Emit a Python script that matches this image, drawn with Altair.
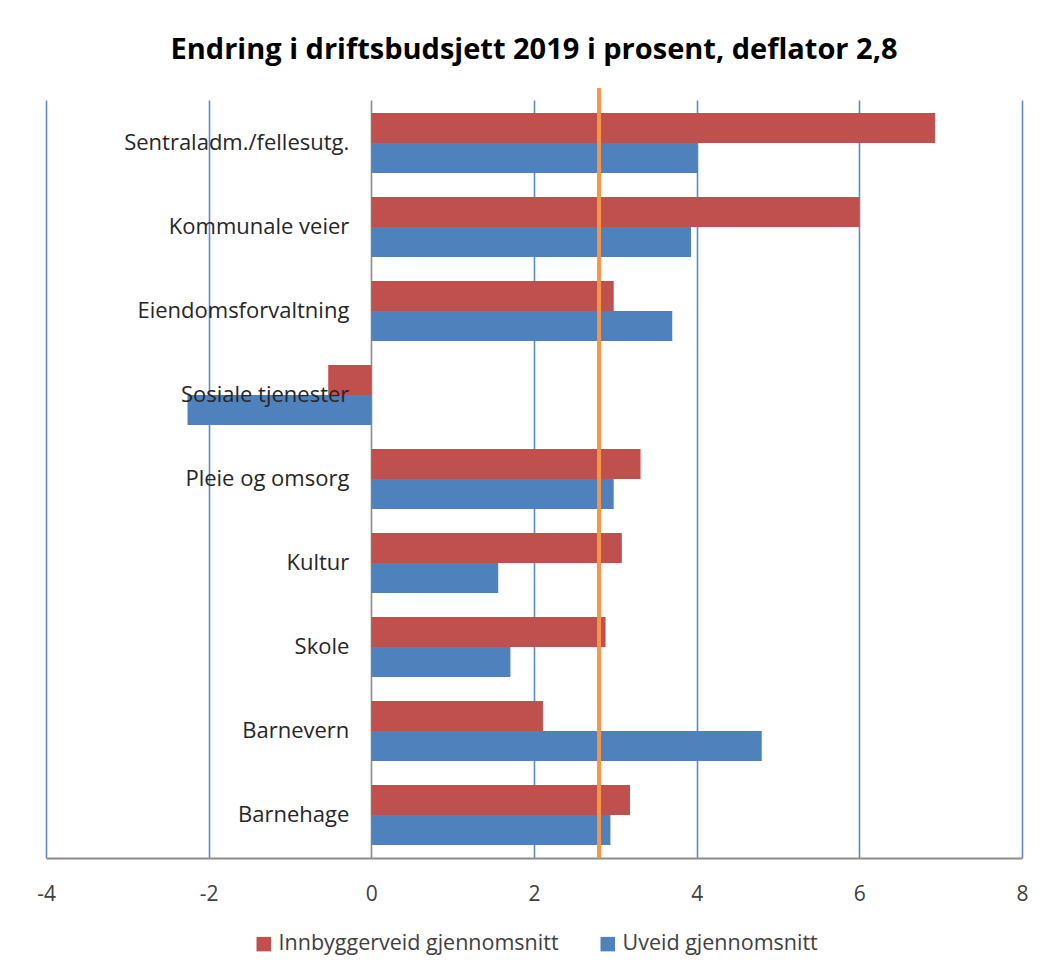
import altair as alt
import pandas as pd

categories = ["Sentraladm./fellesutg.", "Kommunale veier", "Eiendomsforvaltning",
              "Sosiale tjenester", "Pleie og omsorg", "Kultur", "Skole",
              "Barnevern", "Barnehage"]
series_names = ["Innbyggerveid gjennomsnitt", "Uveid gjennomsnitt"]
innbyggerveid = [6.93, 6.0, 2.98, -0.53, 3.31, 3.08, 2.88, 2.11, 3.18]
uveid = [4.01, 3.93, 3.70, -2.26, 2.98, 1.56, 1.71, 4.80, 2.94]
deflator = 2.8
x_ticks = [-4, -2, 0, 2, 4, 6, 8]
colors = ["#C0504D", "#4F81BD"]

rows = []
for c, a, b in zip(categories, innbyggerveid, uveid):
    rows.append({"kategori": c, "serie": series_names[0], "verdi": a})
    rows.append({"kategori": c, "serie": series_names[1], "verdi": b})
df = pd.DataFrame(rows)
lab_df = pd.DataFrame({"kategori": categories})

FONT = "Open Sans"
W, H = 976, 758

xscale = alt.Scale(domain=[-4, 8], nice=False, zero=False)
yscale = alt.Scale(domain=categories, paddingInner=0.286, paddingOuter=0.155)

bars = alt.Chart(df).mark_bar().encode(
    x=alt.X("verdi:Q", scale=xscale,
            axis=alt.Axis(values=x_ticks, title=None, grid=True,
                          labelExpr="'' + datum.value", labelFlush=False,
                          gridColor={"condition": {"test": "datum.value === 0", "value": "#8C8C8C"},
                                     "value": "#5B8BCB"},
                          gridWidth=1.6, domainColor="#8C8C8C", domainWidth=2,
                          ticks=False, labelPadding=25, labelFontSize=21,
                          labelColor="#404040", labelFont=FONT)),
    y=alt.Y("kategori:N", scale=yscale, sort=categories, axis=None),
    yOffset=alt.YOffset("serie:N", sort=series_names,
                        scale=alt.Scale(paddingInner=0, paddingOuter=0)),
    color=alt.Color("serie:N", sort=series_names,
                    scale=alt.Scale(domain=series_names, range=colors),
                    legend=alt.Legend(title=None, orient="none", direction="horizontal",
                                      legendX=207, legendY=833,
                                      symbolType="square", symbolSize=210,
                                      symbolStrokeWidth=0,
                                      labelFontSize=21.5, labelFont=FONT,
                                      labelColor="#404040", columnPadding=38,
                                      labelLimit=400)),
)

labels = alt.Chart(lab_df).mark_text(align="right", baseline="middle", dx=-22,
                                     fontSize=22, font=FONT, color="#262626").encode(
    x=alt.datum(0, scale=xscale),
    y=alt.Y("kategori:N", sort=categories, scale=yscale, axis=None),
    text="kategori:N",
)

defl = alt.Chart(pd.DataFrame({"d": [deflator]})).mark_rule(
    color="#F79646", strokeWidth=4).encode(
    x=alt.X("d:Q", scale=xscale),
    y=alt.value(-12), y2=alt.value(H),
)

chart = alt.layer(bars, labels, defl).properties(
    width=W, height=H,
    title=alt.TitleParams("Endring i driftsbudsjett 2019 i prosent, deflator 2,8",
                          font=FONT, fontSize=29, fontWeight="bold", color="#000000",
                          anchor="middle", offset=21),
    autosize=alt.AutoSizeParams(type="none"),
    padding={"left": 38, "top": 92, "right": 12, "bottom": 100},
).configure(background="white").configure_view(stroke=None)

chart.save("out.html", embed_options={"renderer": "svg", "actions": False})
